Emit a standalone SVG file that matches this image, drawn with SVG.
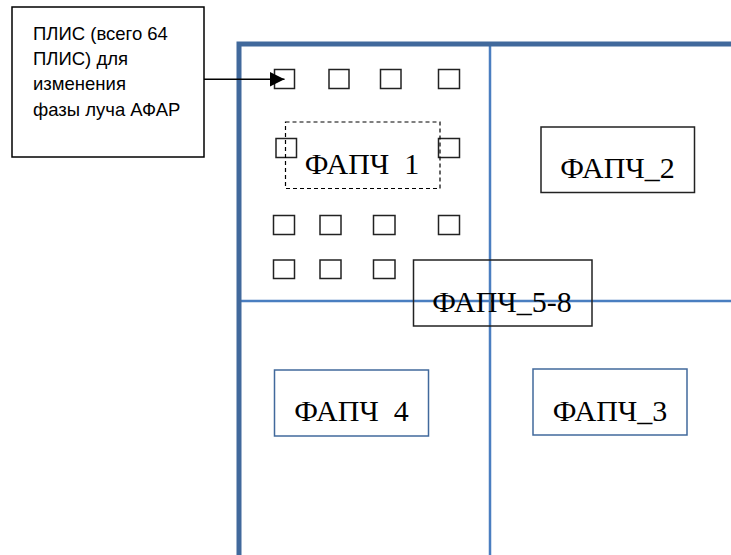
<svg xmlns="http://www.w3.org/2000/svg" width="731" height="555" viewBox="0 0 731 555">
<style>
.frame{fill:none;stroke:#41699C;stroke-width:5}
.grid{fill:none;stroke:#4A7EC0;stroke-width:2.5}
.sq{fill:none;stroke:#222;stroke-width:1.5}
.box{fill:none;stroke:#222;stroke-width:1.5}
.bbox{fill:none;stroke:#41699C;stroke-width:1.5}
.lbl{font-family:"Liberation Serif","Times New Roman",serif;font-size:30px;fill:#000;text-anchor:middle;white-space:pre}
.note{font-family:"Liberation Sans",Arial,sans-serif;font-size:18.5px;fill:#000}
</style>
<defs>
<marker id="ah" markerWidth="15" markerHeight="15" refX="15" refY="7.5" orient="auto" markerUnits="userSpaceOnUse">
<path d="M0,0 L15,7.5 L0,15 Z" fill="#000"/>
</marker>
</defs>
<rect width="731" height="555" fill="#fff"/>
<g id="grid">
<path class="grid" d="M490,45 V555 M240,301 H731"/>
<path class="frame" d="M239,555 V44 H731"/>
</g>
<g id="plis">
<rect class="sq" x="274.5" y="69.5" width="20" height="19"/>
<rect class="sq" x="329" y="69.5" width="20" height="19"/>
<rect class="sq" x="380.5" y="69.5" width="20.5" height="19"/>
<rect class="sq" x="438.5" y="69.5" width="21" height="19"/>
<rect class="sq" x="276" y="138.5" width="20.5" height="19"/>
<rect class="sq" x="438.5" y="138.5" width="21" height="19"/>
<rect class="sq" x="273.5" y="215.5" width="21" height="19"/>
<rect class="sq" x="320" y="215.5" width="21" height="19"/>
<rect class="sq" x="373.5" y="215.5" width="21.5" height="19"/>
<rect class="sq" x="438.5" y="215.5" width="21" height="19"/>
<rect class="sq" x="273.5" y="260" width="21" height="18.5"/>
<rect class="sq" x="320" y="260" width="21" height="18.5"/>
<rect class="sq" x="373.5" y="260" width="21.5" height="18.5"/>
</g>
<g id="fapch1">
<rect x="285.5" y="122" width="154.5" height="66.5" fill="none" stroke="#000" stroke-width="1.2" stroke-dasharray="4,3"/>
<text class="lbl" x="362" y="174">ФАПЧ  1</text>
</g>
<g id="fapch2">
<rect class="box" x="541" y="127" width="153.5" height="65.5"/>
<text class="lbl" x="617.5" y="178">ФАПЧ_2</text>
</g>
<g id="fapch58">
<rect class="box" x="413.5" y="260" width="178.5" height="66"/>
<text class="lbl" x="502" y="311.5">ФАПЧ_5-8</text>
</g>
<g id="fapch4">
<rect class="bbox" x="274.5" y="370" width="154" height="66"/>
<text class="lbl" x="351.5" y="420.5">ФАПЧ  4</text>
</g>
<g id="fapch3">
<rect class="bbox" x="533" y="369" width="154" height="66"/>
<text class="lbl" x="610" y="420.5">ФАПЧ_3</text>
</g>
<g id="callout">
<rect x="12" y="7" width="192" height="150" fill="#fff" stroke="#000" stroke-width="1.5"/>
<text class="note" x="33" y="40">ПЛИС (всего 64</text>
<text class="note" x="33" y="64.5">ПЛИС) для</text>
<text class="note" x="33" y="90">изменения</text>
<text class="note" x="33" y="116">фазы луча АФАР</text>
</g>
<g id="connectors">
<line x1="204" y1="79.3" x2="284.5" y2="79.3" stroke="#000" stroke-width="1.5" marker-end="url(#ah)"/>
</g>
</svg>
